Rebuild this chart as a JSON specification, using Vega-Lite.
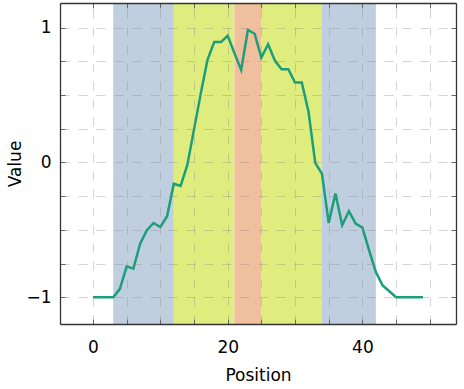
{
  "$schema": "https://vega.github.io/schema/vega-lite/v6.json",
  "autosize": "none",
  "width": 396,
  "height": 321,
  "padding": {"left": 60, "top": 3, "right": 8, "bottom": 65},
  "background": "white",
  "config": {
    "view": {"stroke": null},
    "font": "DejaVu Sans",
    "axis": {
      "labelFont": "DejaVu Sans",
      "titleFont": "DejaVu Sans",
      "labelFontSize": 17,
      "titleFontSize": 17,
      "titleFontWeight": "normal",
      "labelColor": "#000",
      "titleColor": "#000",
      "domainColor": "#333",
      "domainWidth": 1.3,
      "tickColor": "#666",
      "tickWidth": 1,
      "tickSize": -5,
      "gridColor": "#888",
      "gridOpacity": 0.35,
      "gridDash": [9, 9],
      "gridWidth": 1
    }
  },
  "datasets": {
    "spans": [
      {"start": 3, "end": 12, "zone": "blue"},
      {"start": 12, "end": 21, "zone": "yellow"},
      {"start": 21, "end": 25, "zone": "orange"},
      {"start": 25, "end": 34, "zone": "yellow"},
      {"start": 34, "end": 42, "zone": "blue"}
    ],
    "series": [
      {"position": 0, "value": -1},
      {"position": 1, "value": -1},
      {"position": 2, "value": -1},
      {"position": 3, "value": -1},
      {"position": 4, "value": -0.937},
      {"position": 5, "value": -0.771},
      {"position": 6, "value": -0.788},
      {"position": 7, "value": -0.602},
      {"position": 8, "value": -0.503},
      {"position": 9, "value": -0.449},
      {"position": 10, "value": -0.479},
      {"position": 11, "value": -0.399},
      {"position": 12, "value": -0.158},
      {"position": 13, "value": -0.175},
      {"position": 14, "value": -0.02},
      {"position": 15, "value": 0.245},
      {"position": 16, "value": 0.51},
      {"position": 17, "value": 0.761},
      {"position": 18, "value": 0.892},
      {"position": 19, "value": 0.892},
      {"position": 20, "value": 0.939},
      {"position": 21, "value": 0.81},
      {"position": 22, "value": 0.686},
      {"position": 23, "value": 0.982},
      {"position": 24, "value": 0.954},
      {"position": 25, "value": 0.778},
      {"position": 26, "value": 0.876},
      {"position": 27, "value": 0.755},
      {"position": 28, "value": 0.691},
      {"position": 29, "value": 0.691},
      {"position": 30, "value": 0.592},
      {"position": 31, "value": 0.592},
      {"position": 32, "value": 0.376},
      {"position": 33, "value": -0.003},
      {"position": 34, "value": -0.085},
      {"position": 35, "value": -0.449},
      {"position": 36, "value": -0.231},
      {"position": 37, "value": -0.466},
      {"position": 38, "value": -0.362},
      {"position": 39, "value": -0.454},
      {"position": 40, "value": -0.483},
      {"position": 41, "value": -0.652},
      {"position": 42, "value": -0.813},
      {"position": 43, "value": -0.912},
      {"position": 44, "value": -0.955},
      {"position": 45, "value": -1},
      {"position": 46, "value": -1},
      {"position": 47, "value": -1},
      {"position": 48, "value": -1},
      {"position": 49, "value": -1}
    ]
  },
  "layer": [
    {
      "data": {"name": "spans"},
      "mark": {"type": "rect", "opacity": 1},
      "encoding": {
        "x": {
          "field": "start", "type": "quantitative",
          "scale": {"domain": [-4.9, 53.9], "nice": false, "zero": false},
          "axis": {
            "orient": "bottom",
            "title": "Position",
            "values": [0, 5, 10, 15, 20, 25, 30, 35, 40, 45, 50],
            "format": ".0f",
            "labelExpr": "datum.value % 20 === 0 ? datum.label : ''",
            "labelPadding": 20,
            "titlePadding": 12,
            "grid": true,
            "zindex": 1
          }
        },
        "x2": {"field": "end"},
        "y": {"value": 0},
        "y2": {"value": 321},
        "color": {
          "field": "zone", "type": "nominal",
          "scale": {"domain": ["blue", "yellow", "orange"], "range": ["#bfcfdf", "#dfed7e", "#f0bf9e"]},
          "legend": null
        }
      }
    },
    {
      "data": {"name": "series"},
      "mark": {"type": "line", "color": "#1b9e7a", "strokeWidth": 2.5},
      "encoding": {
        "x": {
          "field": "position", "type": "quantitative",
          "axis": {
            "orient": "top",
            "title": null,
            "values": [0, 5, 10, 15, 20, 25, 30, 35, 40, 45, 50],
            "labels": false,
            "grid": false,
            "zindex": 1
          }
        },
        "y": {
          "field": "value", "type": "quantitative",
          "scale": {"domain": [-1.198, 1.182], "nice": false, "zero": false},
          "axis": {
            "orient": "left",
            "title": "Value",
            "values": [-1, -0.75, -0.5, -0.25, 0, 0.25, 0.5, 0.75, 1],
            "format": ".0f",
            "labelExpr": "datum.value % 1 === 0 ? datum.label : ''",
            "labelPadding": 14,
            "titlePadding": 1,
            "grid": true,
            "zindex": 1
          }
        }
      }
    },
    {
      "data": {"name": "series"},
      "mark": {"type": "point", "opacity": 0},
      "encoding": {
        "y": {
          "field": "value", "type": "quantitative",
          "axis": {
            "orient": "right",
            "title": null,
            "values": [-1, -0.75, -0.5, -0.25, 0, 0.25, 0.5, 0.75, 1],
            "labels": false,
            "grid": false,
            "zindex": 1
          }
        }
      }
    }
  ],
  "resolve": {"axis": {"x": "independent", "y": "independent"}}
}
